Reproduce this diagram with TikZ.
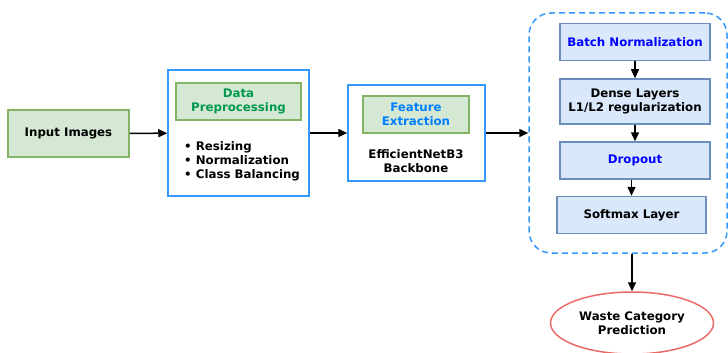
\documentclass[tikz,border=0pt]{standalone}
\usepackage{fontspec}
\setmainfont{DejaVu Sans}
\usetikzlibrary{arrows.meta,shapes.geometric}
\definecolor{gfill}{HTML}{D5E8D4}
\definecolor{gdraw}{HTML}{82B366}
\definecolor{bfill}{HTML}{DAE8FC}
\definecolor{bdraw}{HTML}{6C8EBF}
\definecolor{frame}{HTML}{3399FF}
\definecolor{tgreen}{HTML}{00994C}
\definecolor{tazure}{HTML}{007FFF}
\definecolor{tblue}{HTML}{0000FF}
\definecolor{ered}{HTML}{EA6B66}
\tikzset{
  every node/.style={font=\fontsize{11.8}{13.6}\selectfont\bfseries, align=center, inner sep=0pt},
  greenbox/.style={draw=gdraw, fill=gfill, line width=1.5pt},
  outerbox/.style={draw=frame, line width=1.5pt, fill=white},
  layerbox/.style={draw=bdraw, fill=bfill, line width=1.5pt},
  conn/.style={-{Triangle[length=9pt,width=8pt]}, line width=1.5pt},
}
\begin{document}
\begin{tikzpicture}[x=1pt,y=-1pt]
\useasboundingbox (0,0) rectangle (728,353);

% input
\node[greenbox, minimum width=121pt, minimum height=47pt] (inp) at (68.5,133.5) {Input Images};

% data preprocessing block
\node[outerbox, minimum width=141pt, minimum height=126pt] (pre) at (238.5,133) {};
\node[greenbox, minimum width=125pt, minimum height=37pt, text=tgreen] (pret) at (238.5,101.5) {Data\\Preprocessing};
\node[align=left, anchor=north west, font=\fontsize{11.8}{14}\selectfont\bfseries] (prel) at (184,141) {• Resizing\\• Normalization\\• Class Balancing};

% feature extraction block
\node[outerbox, minimum width=137pt, minimum height=96pt] (fe) at (416.5,133) {};
\node[greenbox, minimum width=106pt, minimum height=37pt, text=tazure] (fet) at (416,114.5) {Feature\\Extraction};
\node (fel) at (416,161) {EfficientNetB3\\Backbone};

% classifier head
\node[draw=frame, dash pattern=on 6pt off 4pt, line width=1.5pt, rounded corners=22pt,
      minimum width=198pt, minimum height=240pt] (head) at (628,133) {};
\node[layerbox, minimum width=150pt, minimum height=37pt, text=tblue] (bn) at (635,42) {Batch Normalization};
\node[layerbox, minimum width=150pt, minimum height=45pt] (dense) at (635,101.5) {Dense Layers\\L1/L2 regularization};
\node[layerbox, minimum width=150pt, minimum height=37pt, text=tblue] (drop) at (635,160.5) {Dropout};
\node[layerbox, minimum width=149pt, minimum height=37pt] (soft) at (631.5,215) {Softmax Layer};

% output
\node[ellipse, draw=ered, line width=1.5pt, minimum width=163pt, minimum height=62pt] (out) at (632,323) {Waste Category\\Prediction};

% connectors
\draw[conn] (inp) -- (pre);
\draw[conn] (pre) -- (fe);
\draw[conn] (fe) -- (head.west);
\draw[conn] (bn) -- (dense);
\draw[conn] (dense) -- (drop);
\draw[conn] (drop.south -| soft) -- (soft);
\draw[conn] (head.south -| out) -- (out);
\end{tikzpicture}
\end{document}
